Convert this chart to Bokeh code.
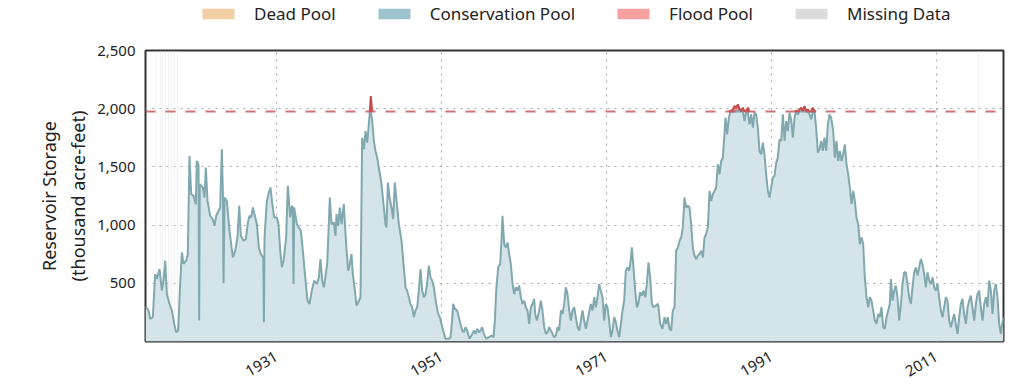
import numpy as np
from math import pi
from bokeh.plotting import figure
from bokeh.layouts import column
from bokeh.models import (Range1d, FixedTicker, NumeralTickFormatter, Legend,
                          LegendItem, Span)
from bokeh.embed import file_html
from bokeh.resources import INLINE

# ---------------- data ----------------
years = [
    1915.12, 1915.49, 1915.69, 1916.01, 1916.29, 1916.50, 1916.82, 1917.10, 1917.30, 1917.51,
    1917.71, 1918.03, 1918.31, 1918.60, 1918.84, 1919.08, 1919.32, 1919.53, 1919.73, 1920.05,
    1920.25, 1920.45, 1920.66, 1920.94, 1921.22, 1921.34, 1921.47, 1921.55, 1921.62, 1921.70,
    1922.07, 1922.27, 1922.43, 1922.64, 1922.96, 1923.28, 1923.48, 1923.69, 1923.97, 1924.17,
    1924.37, 1924.50, 1924.58, 1924.70, 1924.98, 1925.30, 1925.71, 1925.99, 1926.27, 1926.48,
    1926.68, 1927.00, 1927.28, 1927.53, 1927.73, 1927.93, 1928.13, 1928.33, 1928.62, 1928.86,
    1929.10, 1929.40, 1929.47, 1929.55, 1929.83, 1930.07, 1930.27, 1930.47, 1930.72, 1931.04,
    1931.24, 1931.45, 1931.65, 1931.85, 1932.17, 1932.37, 1932.66, 1932.86, 1932.98, 1933.06,
    1933.14, 1933.47, 1933.71, 1933.95, 1934.19, 1934.48, 1934.76, 1935.00, 1935.28, 1935.57,
    1935.89,
    1936.13, 1936.33, 1936.54, 1936.74, 1936.94, 1937.14, 1937.34, 1937.46, 1937.67, 1937.95,
    1938.15, 1938.27, 1938.47, 1938.68, 1938.88, 1939.16, 1939.28, 1939.44, 1939.69, 1939.89,
    1940.09, 1940.25, 1940.50, 1940.70, 1940.90, 1941.18, 1941.38, 1941.59, 1941.79, 1941.99,
    1942.19, 1942.31, 1942.43, 1942.60, 1942.80, 1943.00, 1943.20, 1943.40, 1943.61, 1943.81,
    1944.01, 1944.21, 1944.33, 1944.50, 1944.70, 1944.94, 1945.14, 1945.34, 1945.55, 1945.83,
    1946.15, 1946.43, 1946.64, 1946.84, 1947.04, 1947.24, 1947.44, 1947.65, 1947.85, 1948.05,
    1948.25, 1948.45, 1948.66, 1948.86, 1949.06, 1949.26, 1949.46, 1949.67, 1949.87, 1950.07,
    1950.35, 1950.60, 1950.80, 1951.00, 1951.20, 1951.48, 1951.89, 1952.09, 1952.29, 1952.41,
    1952.62, 1952.90, 1953.10, 1953.30, 1953.51, 1953.71, 1953.91, 1954.11, 1954.39, 1954.64,
    1954.92, 1955.12, 1955.32, 1955.53, 1955.73, 1955.93, 1956.13, 1956.41, 1956.74,
    1957.06, 1957.30, 1957.47, 1957.63, 1957.87, 1958.11, 1958.27, 1958.39, 1958.60, 1958.80,
    1959.00, 1959.20, 1959.40, 1959.61, 1959.81, 1960.01, 1960.21, 1960.41, 1960.62, 1960.82,
    1961.02, 1961.22, 1961.42, 1961.63, 1961.83, 1962.03, 1962.23, 1962.35, 1962.56, 1962.84,
    1963.04, 1963.24, 1963.45, 1963.65, 1963.85, 1964.05, 1964.25, 1964.46, 1964.66, 1964.86,
    1965.06, 1965.26, 1965.47, 1965.67, 1965.87, 1966.07, 1966.27, 1966.48, 1966.68, 1966.88,
    1967.08, 1967.28, 1967.49, 1967.69, 1967.89, 1968.09, 1968.29, 1968.50, 1968.70, 1968.90,
    1969.10, 1969.30, 1969.51, 1969.71, 1969.91, 1970.11, 1970.31, 1970.52, 1970.72, 1970.92,
    1971.12, 1971.32, 1971.53, 1971.73, 1971.93, 1972.13, 1972.33, 1972.54, 1972.74, 1972.94,
    1973.14, 1973.34, 1973.55, 1973.75, 1973.95, 1974.07, 1974.27, 1974.48, 1974.68, 1974.84,
    1975.08, 1975.28, 1975.49, 1975.69, 1975.89, 1976.09, 1976.29, 1976.50, 1976.70, 1976.98,
    1977.26, 1977.51, 1977.79,
    1978.03, 1978.23, 1978.43, 1978.64, 1978.84, 1979.04, 1979.24, 1979.44, 1979.65, 1979.85,
    1980.05, 1980.25, 1980.45, 1980.66, 1980.86, 1981.06, 1981.26, 1981.46, 1981.67, 1981.87,
    1982.07, 1982.27, 1982.48, 1982.68, 1982.88, 1983.08, 1983.28, 1983.49, 1983.69, 1983.89,
    1984.09, 1984.29, 1984.50, 1984.70, 1984.90, 1985.10, 1985.30, 1985.42, 1985.63, 1985.83,
    1986.03, 1986.31, 1986.52, 1986.72, 1986.92, 1987.12, 1987.32, 1987.53, 1987.73, 1987.93,
    1988.13, 1988.33, 1988.54, 1988.74, 1988.94, 1989.14, 1989.34, 1989.55, 1989.75, 1989.95,
    1990.15, 1990.35, 1990.56, 1990.76, 1990.96, 1991.16, 1991.36, 1991.57, 1991.77, 1991.97,
    1992.17, 1992.37, 1992.58, 1992.78, 1992.98, 1993.18, 1993.38, 1993.59, 1993.79, 1993.99,
    1994.19, 1994.39, 1994.60, 1994.80, 1995.00, 1995.20, 1995.40, 1995.61, 1995.81, 1996.01,
    1996.21, 1996.41, 1996.62, 1996.82, 1997.02, 1997.22, 1997.42, 1997.63, 1997.83, 1998.03,
    1998.23,
    1998.48, 1998.68, 1998.88, 1999.08, 1999.28, 1999.49, 1999.69, 1999.89, 2000.09, 2000.29,
    2000.50, 2000.70, 2000.90, 2001.10, 2001.30, 2001.51, 2001.71, 2001.91, 2002.11, 2002.31,
    2002.52, 2002.72, 2002.92, 2003.12, 2003.32, 2003.53, 2003.73, 2003.93, 2004.13, 2004.33,
    2004.54, 2004.74, 2004.94, 2005.14, 2005.34, 2005.47, 2005.67, 2005.87, 2006.07, 2006.27,
    2006.48, 2006.68, 2006.88, 2007.08, 2007.28, 2007.49, 2007.69, 2007.89, 2008.09, 2008.29,
    2008.50, 2008.70, 2008.90, 2009.10, 2009.30, 2009.51, 2009.71, 2009.91, 2010.11, 2010.31,
    2010.52, 2010.72, 2010.92, 2011.12, 2011.32, 2011.53, 2011.73, 2011.93, 2012.13, 2012.33,
    2012.54, 2012.74, 2012.94, 2013.14, 2013.34, 2013.55, 2013.75, 2013.95, 2014.15, 2014.35,
    2014.56, 2014.76, 2014.96, 2015.16, 2015.36, 2015.57, 2015.77, 2015.97, 2016.17, 2016.37,
    2016.58, 2016.78, 2016.98, 2017.18, 2017.38, 2017.59, 2017.79, 2017.99, 2018.19, 2018.39,
    2018.60, 2018.80, 2018.96, 2019.12,
]

storage = [
    300, 265, 195, 210, 580, 537, 623, 437, 523, 694,
    408, 323, 265, 151, 80, 94, 494, 766, 666, 694,
    751, 1594, 1266, 1251, 1180, 1551, 1537, 1510, 180, 1351,
    1323, 1237, 1494, 1208, 1080, 1051, 994, 1080, 1123, 1151,
    1651, 1294, 500, 1237, 1208, 951, 723, 780, 894, 1166,
    908, 866, 880, 1023, 1080, 1066, 1151, 1094, 1008, 808,
    751, 720, 166, 900, 1208, 1280, 1323, 1194, 1066, 1066,
    1008, 780, 637, 694, 894, 1337, 1066, 1166, 1150, 494,
    1151, 1008, 980, 951, 780, 551, 351, 323, 437, 523,
    494,
    551, 708, 523, 466, 566, 666, 1008, 1237, 1008, 1023,
    908, 1094, 994, 1151, 1008, 1180, 1023, 837, 608, 666,
    751, 580, 437, 308, 337, 380, 1751, 1651, 1808, 1708,
    1865, 1980, 2108, 1894, 1723, 1637, 1580, 1494, 1408, 1294,
    1151, 1008, 980, 1366, 1237, 1151, 1051, 1366, 1208, 1008,
    866, 637, 466, 437, 380, 323, 294, 209, 266, 294,
    437, 623, 437, 380, 408, 494, 651, 551, 523, 466,
    323, 237, 209, 151, 94, 23, 23, 37, 180, 323,
    280, 266, 209, 151, 94, 80, 123, 94, 23, 51,
    94, 66, 109, 80, 94, 123, 66, 23, 37,
    51, 37, 180, 437, 637, 666, 866, 1080, 837, 808,
    851, 751, 666, 494, 408, 466, 437, 480, 380, 323,
    351, 294, 266, 151, 294, 323, 366, 237, 180, 266,
    351, 266, 123, 66, 80, 123, 94, 66, 37, 51,
    123, 94, 266, 237, 323, 466, 408, 266, 180, 266,
    294, 209, 123, 94, 180, 266, 180, 109, 180, 251,
    323, 266, 380, 294, 380, 494, 437, 380, 180, 323,
    294, 180, 37, 94, 209, 166, 94, 37, 151, 266,
    351, 608, 637, 608, 708, 808, 637, 437, 294, 323,
    423, 394, 437, 380, 494, 680, 551, 323, 294, 308,
    323, 151, 109,
    209, 151, 209, 109, 94, 266, 294, 780, 808, 866,
    894, 980, 1237, 1151, 1166, 1151, 1008, 808, 737, 708,
    737, 751, 780, 723, 894, 923, 980, 1294, 1208, 1266,
    1294, 1323, 1523, 1437, 1551, 1580, 1780, 1923, 1780, 1923,
    1980, 1994, 2023, 2008, 2037, 1994, 1980, 2008, 1894, 1980,
    2008, 1865, 1951, 1837, 1966, 1951, 1837, 1637, 1608, 1708,
    1608, 1437, 1294, 1237, 1323, 1408, 1423, 1537, 1580, 1737,
    1723, 1951, 1723, 1894, 1808, 1966, 1908, 1751, 1923, 1980,
    1951, 1994, 2008, 1980, 2023, 1980, 1994, 1951, 1908, 2008,
    1980, 1837, 1623, 1651, 1723, 1637, 1751, 1637, 1865, 1951,
    1923,
    1808, 1580, 1723, 1551, 1637, 1551, 1608, 1694, 1523, 1437,
    1323, 1180, 1294, 1208, 1066, 1008, 837, 894, 837, 551,
    380, 294, 380, 351, 266, 180, 151, 237, 209, 294,
    123, 109, 209, 266, 323, 537, 351, 437, 480, 380,
    180, 323, 494, 594, 594, 494, 380, 323, 466, 594,
    637, 566, 637, 708, 666, 580, 466, 594, 523, 494,
    551, 466, 437, 494, 380, 266, 209, 294, 380, 351,
    180, 123, 180, 237, 151, 66, 209, 323, 366, 237,
    151, 294, 351, 394, 294, 180, 323, 408, 437, 294,
    180, 323, 380, 294, 523, 437, 237, 437, 494, 380,
    151, 66, 151, 209,
]

missing_years = [1916.40, 1916.90, 1917.20, 1917.55, 1917.90, 1918.25, 1918.60, 1919.00, 2016.08]
top_of_conservation = 1975
x_ticks = [1931, 1951, 1971, 1991, 2011]
y_ticks = [500, 1000, 1500, 2000, 2500]
legend_labels = ["Dead Pool", "Conservation Pool", "Flood Pool", "Missing Data"]
legend_colors = ["#f1cfa3", "#9cc3cb", "#f9a1a0", "#dcdcdc"]

# ---------------- derived series ----------------
yr = np.array(years, dtype=float)
st = np.array(storage, dtype=float)
T = top_of_conservation
cons = np.minimum(st, T)
flood = np.maximum(st, T)
above = st > T
near = above.copy()
near[1:] |= above[:-1]
near[:-1] |= above[1:]
flood_line = np.where(near, flood, np.nan)

FONT = "Noto Sans"

# ---------------- legend strip (own figure, above the chart) ----------------
leg = figure(width=1012, height=40, output_backend="svg", toolbar_location=None,
             x_range=Range1d(0, 1), y_range=Range1d(0, 1),
             x_axis_type=None, y_axis_type=None,
             min_border=0, outline_line_color=None)
leg.xgrid.visible = False
leg.ygrid.visible = False
# legend-only proxies: a single zero-size quad each, outside the strip's range (draws nothing)
leg_r = [leg.quad(left=[-1], right=[-1], top=[-1], bottom=[-1],
                  fill_color=c, line_color=None)
         for c in legend_colors]
legend = Legend(items=[LegendItem(label=l, renderers=[r]) for l, r in zip(legend_labels, leg_r)],
                orientation="horizontal", location=(53, 15),
                glyph_width=40, glyph_height=13, label_standoff=16, spacing=38,
                padding=0, margin=0, border_line_color=None, background_fill_alpha=0,
                label_text_font=FONT, label_text_font_size="17px", label_text_color="#222222")
leg.add_layout(legend)

# ---------------- main chart ----------------
p = figure(width=1012, height=344, output_backend="svg", toolbar_location=None,
           x_range=Range1d(1915.12, 2019.12), y_range=Range1d(0, 2500),
           min_border_left=145, min_border_right=9, min_border_top=10,
           min_border_bottom=40)

# missing data stripes
p.vbar(x=missing_years, width=1.0 / 12, top=2500, bottom=0,
       fill_color="#dddddd", fill_alpha=0.6, line_color=None)

# conservation pool area and flood pool area
p.varea(x=yr, y1=0, y2=cons, fill_color="#d4e4e8", fill_alpha=1.0)
p.varea(x=yr, y1=T, y2=flood, fill_color="#e58080", fill_alpha=0.9)

p.line(yr, cons, line_color="#80a8ae", line_width=2)
p.line(yr, flood_line, line_color="#c94a4a", line_width=2)

p.add_layout(Span(location=T, dimension="width", line_color="#c65c60",
                  line_dash="10 10", line_width=2, line_alpha=0.85))

# axes
p.xaxis.ticker = FixedTicker(ticks=x_ticks)
p.yaxis.ticker = FixedTicker(ticks=y_ticks)
p.yaxis.formatter = NumeralTickFormatter(format="0,0")
p.xaxis.major_label_orientation = pi / 6
for ax in (p.xaxis[0], p.yaxis[0]):
    ax.axis_line_color = None
    ax.major_tick_line_color = None
    ax.minor_tick_line_color = None
    ax.major_label_text_font = FONT
    ax.major_label_text_font_size = "15px"
    ax.major_label_text_color = "#222222"
p.xaxis.major_label_standoff = 8
p.yaxis.major_label_standoff = 4

p.yaxis.axis_label = "Reservoir Storage\n(thousand acre-feet)"
p.yaxis.axis_label_text_font = FONT
p.yaxis.axis_label_text_font_size = "18px"
p.yaxis.axis_label_text_font_style = "normal"
p.yaxis.axis_label_text_color = "#222222"
p.yaxis.axis_label_standoff = 4

p.xgrid.ticker = FixedTicker(ticks=x_ticks)
p.ygrid.ticker = FixedTicker(ticks=y_ticks)
for g in (p.xgrid[0], p.ygrid[0]):
    g.grid_line_color = "#a8a8a8"
    g.grid_line_dash = "2 5"
    g.grid_line_width = 1

p.outline_line_color = "#333333"
p.outline_line_width = 2
p.background_fill_color = "white"
p.border_fill_color = "white"

layout = column(leg, p, spacing=0)
open("out.html", "w").write(file_html(layout, INLINE))
